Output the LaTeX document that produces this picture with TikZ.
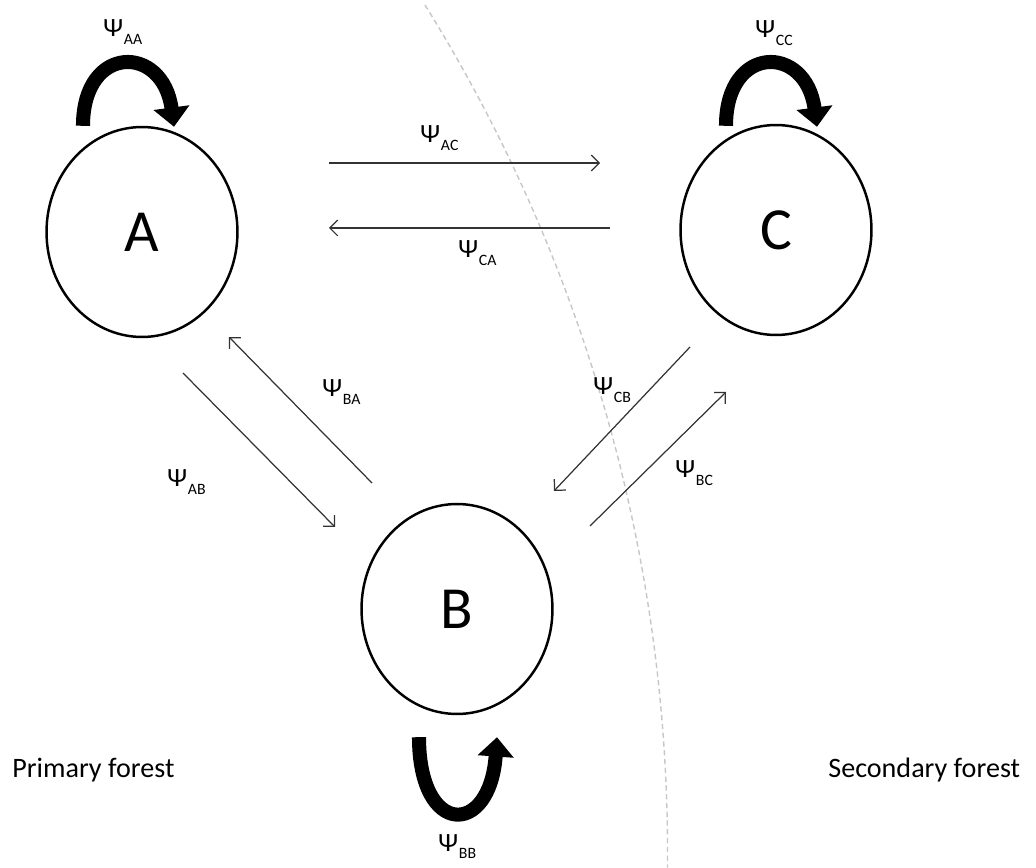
\documentclass[tikz,border=0pt]{standalone}
\usepackage{fontspec}
\setmainfont{Carlito}
\usetikzlibrary{arrows.meta,calc,shapes.geometric}
\newcommand{\psub}[1]{Ψ\kern0.5pt\raisebox{-4.5pt}{\fontsize{9}{10}\selectfont #1}}
\begin{document}
\begin{tikzpicture}[x=0.02cm,y=-0.02cm]


	\tikzstyle{site}=[draw,ellipse,line width=1.4pt,inner sep=0pt,minimum width=3.82cm,minimum height=4.2cm,font=\fontsize{34}{40}\selectfont]
	\tikzstyle{trans}=[draw=black!80,line width=0.7pt,-{Straight Barb[length=4.5pt,width=9pt]}]
	\tikzstyle{persist}=[line width=8pt,-{Triangle[length=11pt,width=20pt]}]
	\tikzstyle{psi}=[anchor=base west,inner sep=0pt,font=\fontsize{15}{18}\selectfont]
	\tikzstyle{zone}=[anchor=base west,inner sep=0pt,font=\fontsize{16}{19}\selectfont]

	\useasboundingbox (0,0) rectangle (1036,868);

	\draw[black!22,line width=0.8pt,dash pattern=on 3pt off 2pt] (425,5) arc[start angle=-31.9,end angle=0.5,radius=1606];

	\node[site] (A) at (142,232) {A};
	\node[site] (C) at (776,230) {C};
	\node[site] (B) at (457,609) {B};

	\draw[persist] ($(A.north)+(-59,0)$) .. controls +(0,-82) and +(-11,-83) .. ($(A.north)+(32,1)$);
	\draw[persist] ($(C.north)+(-50,2)$) .. controls +(0,-82) and +(-11,-83) .. ($(C.north)+(41,3)$);
	\draw[persist] ($(B.south)+(-38,22)$) .. controls +(0,100) and +(-7,100) .. ($(B.south)+(40,22)$);

	\draw[trans] ($(A)+(187,-69)$) -- ($(C)+(-176,-67)$);
	\draw[trans] ($(C)+(-166,-2)$) -- ($(A)+(187,-4)$);
	\draw[trans] ($(A)+(41,141)$) -- ($(B)+(-122,-82)$);
	\draw[trans] ($(B)+(-85,-126)$) -- ($(A)+(87,105)$);
	\draw[trans] ($(C)+(-86,117)$) -- ($(B)+(97,-118)$);
	\draw[trans] ($(B)+(133,-83)$) -- ($(C)+(-50,162)$);

	\node[psi] (lAA) at (103,37) {\psub{AA}};
	\node[psi] (lCC) at (755,38) {\psub{CC}};
	\node[psi] (lAC) at (420,143) {\psub{AC}};
	\node[psi] (lCA) at (458,258) {\psub{CA}};
	\node[psi] (lBA) at (322,397) {\psub{BA}};
	\node[psi] (lAB) at (167,487) {\psub{AB}};
	\node[psi] (lCB) at (593,395) {\psub{CB}};
	\node[psi] (lBC) at (675,478) {\psub{BC}};
	\node[psi] (lBB) at (438,851) {\psub{BB}};

	\node[zone] (prim) at (12,778) {Primary forest};
	\node[zone] (sec) at (828,778) {Secondary forest};

%	\draw (A) -- (B) -- (C) -- (A);
\end{tikzpicture}
\end{document}
